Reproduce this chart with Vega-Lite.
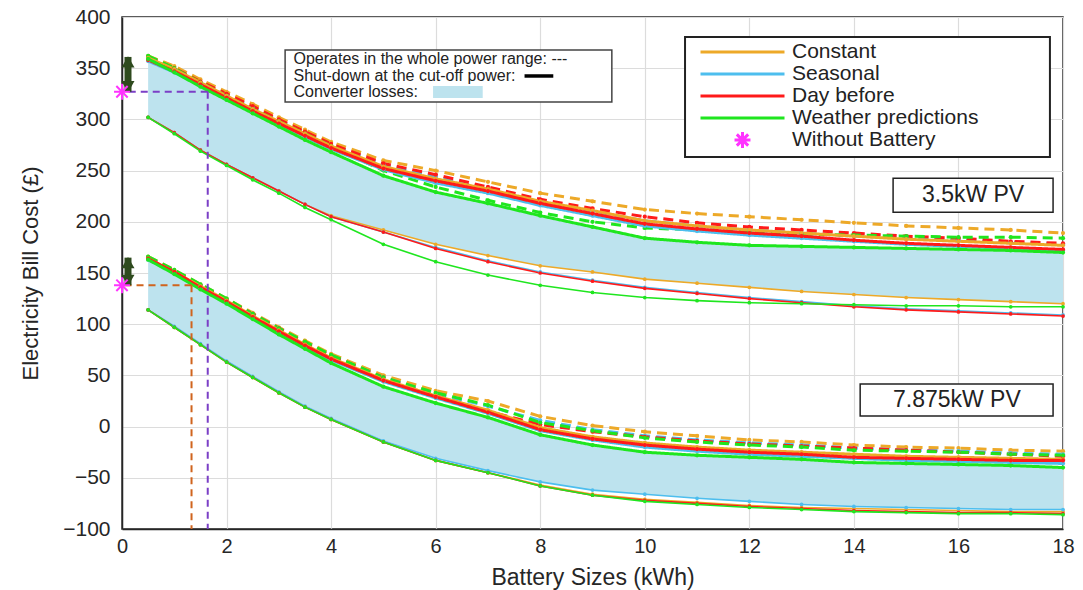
{
  "$schema": "https://vega.github.io/schema/vega-lite/v6.json",
  "width": 941,
  "height": 512,
  "autosize": {"type": "none"},
  "padding": {"left": 122, "top": 17, "right": 20, "bottom": 61},
  "background": "white",
  "data": {"values": [{"note": 1}]},
  "config": {
    "font": "Liberation Sans",
    "view": {"stroke": "#262626", "strokeWidth": 1.5},
    "axis": {
      "gridColor": "#dcdcdc", "gridWidth": 1.2, "domainColor": "#262626", "domainWidth": 1.5,
      "ticks": false, "labelFlush": false, "labelColor": "#262626", "titleColor": "#262626", "titleFontWeight": "normal"
    },
    "axisX": {"labelFontSize": 20, "labelPadding": 7, "titleFontSize": 23, "titleY": 48, "titleBaseline": "middle"},
    "axisY": {"labelFontSize": 21, "labelPadding": 12, "titleFontSize": 22, "titleX": -92, "titleY": 256, "titleBaseline": "middle", "titleAngle": -90}
  },
  "datasets": {
    "curves": [
      {"kwh":0.5,"aCd":362,"aSd":360,"aDd":361,"aWd":362,"aCs":360,"aSs":357,"aDs":358,"aWs":359,"aCl":302,"aSl":302,"aDl":302,"aWl":302,"bCd":166,"bSd":165,"bDd":165,"bWd":166,"bCs":164,"bSs":163,"bDs":164,"bWs":163,"bCl":114,"bSl":114,"bDl":114,"bWl":114},
      {"kwh":1,"aCd":352,"aSd":349,"aDd":350,"aWd":350,"aCs":349,"aSs":346,"aDs":347,"aWs":346,"aCl":287,"aSl":287,"aDl":287,"aWl":286,"bCd":153,"bSd":152,"bDd":152,"bWd":153,"bCs":151,"bSs":150,"bDs":151,"bWs":149,"bCl":97,"bSl":98,"bDl":97,"bWl":97},
      {"kwh":1.5,"aCd":339,"aSd":336,"aDd":337,"aWd":336,"aCs":336,"aSs":333,"aDs":334,"aWs":332,"aCl":270,"aSl":270,"aDl":270,"aWl":269,"bCd":139,"bSd":138,"bDd":138,"bWd":139,"bCs":137,"bSs":135,"bDs":136,"bWs":134,"bCl":80,"bSl":81,"bDl":80,"bWl":80},
      {"kwh":2,"aCd":327,"aSd":324,"aDd":325,"aWd":323,"aCs":323,"aSs":320,"aDs":321,"aWs":319,"aCl":256,"aSl":256,"aDl":256,"aWl":255,"bCd":125,"bSd":124,"bDd":124,"bWd":125,"bCs":123,"bSs":121,"bDs":122,"bWs":120,"bCl":63,"bSl":64,"bDl":63,"bWl":63},
      {"kwh":2.5,"aCd":315,"aSd":312,"aDd":313,"aWd":310,"aCs":310,"aSs":307,"aDs":308,"aWs":306,"aCl":243,"aSl":243,"aDl":243,"aWl":241,"bCd":111,"bSd":110,"bDd":110,"bWd":110,"bCs":108,"bSs":106,"bDs":107,"bWs":105,"bCl":48,"bSl":49,"bDl":48,"bWl":48},
      {"kwh":3,"aCd":302,"aSd":299,"aDd":300,"aWd":298,"aCs":298,"aSs":295,"aDs":296,"aWs":293,"aCl":230,"aSl":230,"aDl":230,"aWl":228,"bCd":97,"bSd":96,"bDd":96,"bWd":96,"bCs":94,"bSs":92,"bDs":93,"bWs":90,"bCl":33,"bSl":34,"bDl":33,"bWl":33},
      {"kwh":3.5,"aCd":290,"aSd":287,"aDd":288,"aWd":286,"aCs":286,"aSs":283,"aDs":284,"aWs":280,"aCl":217,"aSl":217,"aDl":217,"aWl":214,"bCd":84,"bSd":82,"bDd":82,"bWd":83,"bCs":80,"bSs":78,"bDs":79,"bWs":76,"bCl":19,"bSl":20,"bDl":19,"bWl":19},
      {"kwh":4,"aCd":278,"aSd":275,"aDd":276,"aWd":274,"aCs":274,"aSs":271,"aDs":272,"aWs":268,"aCl":206,"aSl":205,"aDl":205,"aWl":202,"bCd":71,"bSd":69,"bDd":69,"bWd":70,"bCs":67,"bSs":65,"bDs":66,"bWs":62,"bCl":7,"bSl":8,"bDl":7,"bWl":7},
      {"kwh":5,"aCd":260,"aSd":256,"aDd":257,"aWd":250,"aCs":254,"aSs":251,"aDs":252,"aWs":245,"aCl":192,"aSl":190,"aDl":190,"aWl":178,"bCd":50,"bSd":48,"bDd":48,"bWd":48,"bCs":46,"bSs":44,"bDs":45,"bWs":39,"bCl":-15,"bSl":-14,"bDl":-15,"bWl":-15},
      {"kwh":6,"aCd":250,"aSd":244,"aDd":246,"aWd":234,"aCs":242,"aSs":238,"aDs":240,"aWs":229,"aCl":178,"aSl":175,"aDl":174,"aWl":161,"bCd":35,"bSd":32,"bDd":30,"bWd":33,"bCs":30,"bSs":28,"bDs":29,"bWs":23,"bCl":-33,"bSl":-31,"bDl":-33,"bWl":-33},
      {"kwh":7,"aCd":239,"aSd":232,"aDd":234,"aWd":221,"aCs":232,"aSs":228,"aDs":230,"aWs":218,"aCl":167,"aSl":162,"aDl":161,"aWl":148,"bCd":25,"bSd":20,"bDd":15,"bWd":21,"bCs":16,"bSs":13,"bDs":14,"bWs":9,"bCl":-45,"bSl":-43,"bDl":-45,"bWl":-45},
      {"kwh":8,"aCd":228,"aSd":220,"aDd":222,"aWd":209,"aCs":220,"aSs":216,"aDs":218,"aWs":206,"aCl":157,"aSl":151,"aDl":150,"aWl":138,"bCd":10,"bSd":6,"bDd":2,"bWd":4,"bCs":-1,"bSs":-4,"bDs":-3,"bWs":-8,"bCl":-57,"bSl":-54,"bDl":-58,"bWl":-58},
      {"kwh":9,"aCd":220,"aSd":210,"aDd":213,"aWd":200,"aCs":211,"aSs":206,"aDs":208,"aWs":195,"aCl":151,"aSl":143,"aDl":142,"aWl":131,"bCd":1,"bSd":-3,"bDd":-5,"bWd":-4,"bCs":-10,"bSs":-13,"bDs":-12,"bWs":-18,"bCl":-66,"bSl":-62,"bDl":-67,"bWl":-67},
      {"kwh":10,"aCd":212,"aSd":201,"aDd":205,"aWd":194,"aCs":201,"aSs":196,"aDs":198,"aWs":184,"aCl":144,"aSl":136,"aDl":135,"aWl":126,"bCd":-5,"bSd":-9,"bDd":-10,"bWd":-11,"bCs":-16,"bSs":-20,"bDs":-18,"bWs":-25,"bCl":-71,"bSl":-66,"bDl":-72,"bWl":-73},
      {"kwh":11,"aCd":208,"aSd":196,"aDd":199,"aWd":192,"aCs":196,"aSs":191,"aDs":193,"aWs":180,"aCl":140,"aSl":131,"aDl":130,"aWl":123,"bCd":-9,"bSd":-13,"bDd":-14,"bWd":-15,"bCs":-20,"bSs":-24,"bDs":-22,"bWs":-28,"bCl":-74,"bSl":-70,"bDl":-75,"bWl":-76},
      {"kwh":12,"aCd":205,"aSd":192,"aDd":195,"aWd":190,"aCs":192,"aSs":187,"aDs":189,"aWs":177,"aCl":136,"aSl":126,"aDl":125,"aWl":121,"bCd":-13,"bSd":-16,"bDd":-17,"bWd":-18,"bCs":-23,"bSs":-27,"bDs":-25,"bWs":-30,"bCl":-77,"bSl":-73,"bDl":-78,"bWl":-79},
      {"kwh":13,"aCd":202,"aSd":189,"aDd":192,"aWd":188,"aCs":189,"aSs":184,"aDs":186,"aWs":176,"aCl":132,"aSl":122,"aDl":121,"aWl":120,"bCd":-15,"bSd":-18,"bDd":-19,"bWd":-20,"bCs":-25,"bSs":-29,"bDs":-27,"bWs":-32,"bCl":-79,"bSl":-76,"bDl":-80,"bWl":-81},
      {"kwh":14,"aCd":199,"aSd":186,"aDd":189,"aWd":187,"aCs":186,"aSs":181,"aDs":182,"aWs":175,"aCl":129,"aSl":118,"aDl":117,"aWl":119,"bCd":-18,"bSd":-21,"bDd":-21,"bWd":-23,"bCs":-27,"bSs":-31,"bDs":-30,"bWs":-35,"bCl":-80,"bSl":-78,"bDl":-82,"bWl":-83},
      {"kwh":15,"aCd":196,"aSd":184,"aDd":186,"aWd":186,"aCs":183,"aSs":178,"aDs":179,"aWs":174,"aCl":126,"aSl":115,"aDl":114,"aWl":118,"bCd":-20,"bSd":-23,"bDd":-23,"bWd":-24,"bCs":-29,"bSs":-33,"bDs":-31,"bWs":-36,"bCl":-81,"bSl":-79,"bDl":-83,"bWl":-84},
      {"kwh":16,"aCd":194,"aSd":182,"aDd":184,"aWd":185,"aCs":181,"aSs":176,"aDs":177,"aWs":173,"aCl":124,"aSl":113,"aDl":112,"aWl":118,"bCd":-21,"bSd":-24,"bDd":-25,"bWd":-25,"bCs":-30,"bSs":-34,"bDs":-32,"bWs":-37,"bCl":-82,"bSl":-80,"bDl":-84,"bWl":-85},
      {"kwh":17,"aCd":192,"aSd":180,"aDd":181,"aWd":185,"aCs":179,"aSs":174,"aDs":175,"aWs":172,"aCl":122,"aSl":111,"aDl":110,"aWl":117,"bCd":-23,"bSd":-26,"bDd":-27,"bWd":-27,"bCs":-31,"bSs":-35,"bDs":-33,"bWs":-38,"bCl":-83,"bSl":-81,"bDl":-84,"bWl":-85},
      {"kwh":18,"aCd":189,"aSd":178,"aDd":179,"aWd":184,"aCs":177,"aSs":172,"aDs":173,"aWs":170,"aCl":120,"aSl":109,"aDl":108,"aWl":117,"bCd":-24,"bSd":-27,"bDd":-29,"bWd":-28,"bCs":-32,"bSs":-36,"bDs":-33,"bWs":-40,"bCl":-83,"bSl":-81,"bDl":-85,"bWl":-86}
    ],
    "series": [
      {"key":"aCd","strategy":"Constant","mode":"d"},{"key":"aSd","strategy":"Seasonal","mode":"d"},{"key":"aDd","strategy":"Day before","mode":"d"},{"key":"aWd","strategy":"Weather predictions","mode":"d"},
      {"key":"aCs","strategy":"Constant","mode":"s"},{"key":"aSs","strategy":"Seasonal","mode":"s"},{"key":"aDs","strategy":"Day before","mode":"s"},{"key":"aWs","strategy":"Weather predictions","mode":"s"},
      {"key":"aCl","strategy":"Constant","mode":"l"},{"key":"aSl","strategy":"Seasonal","mode":"l"},{"key":"aDl","strategy":"Day before","mode":"l"},{"key":"aWl","strategy":"Weather predictions","mode":"l"},
      {"key":"bCd","strategy":"Constant","mode":"d"},{"key":"bSd","strategy":"Seasonal","mode":"d"},{"key":"bDd","strategy":"Day before","mode":"d"},{"key":"bWd","strategy":"Weather predictions","mode":"d"},
      {"key":"bCs","strategy":"Constant","mode":"s"},{"key":"bSs","strategy":"Seasonal","mode":"s"},{"key":"bDs","strategy":"Day before","mode":"s"},{"key":"bWs","strategy":"Weather predictions","mode":"s"},
      {"key":"bCl","strategy":"Constant","mode":"l"},{"key":"bSl","strategy":"Seasonal","mode":"l"},{"key":"bDl","strategy":"Day before","mode":"l"},{"key":"bWl","strategy":"Weather predictions","mode":"l"}
    ],
    "nobattery": [
      {"kwh":0,"cost":327,"strategy":"Without Battery"},
      {"kwh":0,"cost":138,"strategy":"Without Battery"}
    ],
    "gap": [
      {"kwh":0,"low":327,"high":361},
      {"kwh":0,"low":138,"high":165}
    ],
    "cutoff": [
      {"pv":"3.5kW","kwh":1.64,"cost":327},
      {"pv":"7.875kW","kwh":1.33,"cost":138}
    ]
  },
  "layer": [
    {
      "data": {"name": "curves"},
      "mark": {"type": "area", "color": "#bde3ee", "opacity": 1},
      "encoding": {
        "x": {"field": "kwh", "type": "quantitative", "scale": {"domain": [0, 18], "nice": false, "zero": false},
              "axis": {"title": "Battery Sizes (kWh)", "values": [0,2,4,6,8,10,12,14,16,18], "grid": true}},
        "y": {"field": "aWs", "type": "quantitative", "scale": {"domain": [-100, 400], "nice": false, "zero": false},
              "axis": {"title": "Electricity Bill Cost (£)", "values": [-100,-50,0,50,100,150,200,250,300,350,400], "grid": true}},
        "y2": {"field": "aCl"}
      }
    },
    {
      "data": {"name": "curves"},
      "mark": {"type": "area", "color": "#bde3ee", "opacity": 1},
      "encoding": {
        "x": {"field": "kwh", "type": "quantitative"},
        "y": {"field": "bWs", "type": "quantitative"},
        "y2": {"field": "bSl"}
      }
    },
    {
      "data": {"name": "curves"},
      "transform": [
        {"fold": ["aCd","aSd","aDd","aWd","aCs","aSs","aDs","aWs","aCl","aSl","aDl","aWl","bCd","bSd","bDd","bWd","bCs","bSs","bDs","bWs","bCl","bSl","bDl","bWl"], "as": ["key", "cost"]},
        {"lookup": "key", "from": {"data": {"name": "series"}, "key": "key", "fields": ["strategy", "mode"]}},
        {"filter": {"field": "mode", "equal": "l"}}
      ],
      "mark": {"type": "line", "strokeWidth": 1.6, "point": {"filled": true, "size": 14}},
      "encoding": {
        "x": {"field": "kwh", "type": "quantitative"},
        "y": {"field": "cost", "type": "quantitative"},
        "detail": {"field": "key"},
        "color": {"field": "strategy", "type": "nominal",
          "scale": {"domain": ["Constant","Seasonal","Day before","Weather predictions","Without Battery"], "range": ["#EDA928","#4DBEEE","#FF1A1A","#1FE61F","#FF33FF"]},
          "legend": {"orient": "none", "legendX": 577, "legendY": 25, "title": null, "labelFontSize": 21, "labelLimit": 400, "labelColor": "#222222", "clipHeight": 20, "rowPadding": 1, "symbolSize": 7056, "symbolStrokeWidth": 3, "labelOffset": 6, "padding": 0}}
      }
    },
    {
      "data": {"name": "curves"},
      "transform": [
        {"fold": ["aCd","aSd","aDd","aWd","aCs","aSs","aDs","aWs","aCl","aSl","aDl","aWl","bCd","bSd","bDd","bWd","bCs","bSs","bDs","bWs","bCl","bSl","bDl","bWl"], "as": ["key", "cost"]},
        {"lookup": "key", "from": {"data": {"name": "series"}, "key": "key", "fields": ["strategy", "mode"]}},
        {"filter": {"field": "mode", "oneOf": ["d", "s"]}}
      ],
      "mark": {"type": "line", "strokeWidth": 3, "point": {"filled": true, "size": 18}},
      "encoding": {
        "x": {"field": "kwh", "type": "quantitative"},
        "y": {"field": "cost", "type": "quantitative"},
        "detail": {"field": "key"},
        "color": {"field": "strategy", "type": "nominal"},
        "strokeDash": {"field": "mode", "type": "nominal", "scale": {"domain": ["d", "s"], "range": [[10, 6], [1, 0]]}, "legend": null}
      }
    },
    {
      "data": {"name": "cutoff"},
      "mark": {"type": "rule", "strokeWidth": 2, "strokeDash": [7, 5]},
      "encoding": {
        "x": {"field": "kwh", "type": "quantitative"},
        "x2": {"datum": 0},
        "y": {"field": "cost", "type": "quantitative"},
        "stroke": {"field": "pv", "type": "nominal", "scale": {"domain": ["3.5kW", "7.875kW"], "range": ["#7B3FC6", "#D0641E"]}, "legend": null}
      }
    },
    {
      "data": {"name": "cutoff"},
      "mark": {"type": "rule", "strokeWidth": 2, "strokeDash": [7, 5]},
      "encoding": {
        "x": {"field": "kwh", "type": "quantitative"},
        "y": {"field": "cost", "type": "quantitative"},
        "y2": {"datum": -100},
        "stroke": {"field": "pv", "type": "nominal"}
      }
    },
    {
      "data": {"name": "gap"},
      "mark": {"type": "rule", "strokeWidth": 7, "color": "#2E4A1E", "xOffset": 6},
      "encoding": {
        "x": {"field": "kwh", "type": "quantitative"},
        "y": {"field": "low", "type": "quantitative"},
        "y2": {"field": "high"}
      }
    },
    {
      "data": {"name": "gap"},
      "mark": {"type": "point", "shape": "triangle-up", "filled": true, "size": 170, "color": "#2E4A1E", "xOffset": 6, "yOffset": 5, "opacity": 1},
      "encoding": {
        "x": {"field": "kwh", "type": "quantitative"},
        "y": {"field": "high", "type": "quantitative"}
      }
    },
    {
      "data": {"name": "gap"},
      "mark": {"type": "point", "shape": "triangle-down", "filled": true, "size": 170, "color": "#2E4A1E", "xOffset": 6, "yOffset": -5, "opacity": 1},
      "encoding": {
        "x": {"field": "kwh", "type": "quantitative"},
        "y": {"field": "low", "type": "quantitative"}
      }
    },
    {
      "data": {"name": "nobattery"},
      "mark": {"type": "point", "filled": false, "size": 7056, "strokeWidth": 2, "opacity": 1},
      "encoding": {
        "x": {"field": "kwh", "type": "quantitative"},
        "y": {"field": "cost", "type": "quantitative"},
        "color": {"field": "strategy", "type": "nominal"},
        "shape": {"field": "strategy", "type": "nominal",
          "scale": {"domain": ["Constant","Seasonal","Day before","Weather predictions","Without Battery"], "range": ["stroke","stroke","stroke","stroke","M0,-0.19L0,0.19M-0.19,0L0.19,0M-0.135,-0.135L0.135,0.135M-0.135,0.135L0.135,-0.135"]},
          "legend": {"orient": "none", "legendX": 577, "legendY": 25, "title": null, "labelFontSize": 21, "labelLimit": 400, "labelColor": "#222222", "clipHeight": 20, "rowPadding": 1, "symbolSize": 7056, "symbolStrokeWidth": 3, "labelOffset": 6, "padding": 0}}
      }
    },
    {
      "mark": {"type": "rect", "fill": "white", "stroke": "#222222", "strokeWidth": 2},
      "encoding": {"x": {"datum": 10.77}, "x2": {"datum": 17.75}, "y": {"datum": 380.5}, "y2": {"datum": 263.3}}
    },
    {
      "mark": {"type": "rect", "fill": "white", "stroke": "#444444", "strokeWidth": 1.5},
      "encoding": {"x": {"datum": 3.12}, "x2": {"datum": 9.37}, "y": {"datum": 367.8}, "y2": {"datum": 317}}
    },
    {
      "mark": {"type": "text", "text": "Operates in the whole power range: ---", "align": "left", "baseline": "middle", "fontSize": 16, "color": "#222222"},
      "encoding": {"x": {"datum": 3.28}, "y": {"datum": 359}}
    },
    {
      "mark": {"type": "text", "text": "Shut-down at the cut-off power:", "align": "left", "baseline": "middle", "fontSize": 16, "color": "#222222"},
      "encoding": {"x": {"datum": 3.28}, "y": {"datum": 342.4}}
    },
    {
      "mark": {"type": "rule", "strokeWidth": 3.5, "color": "black"},
      "encoding": {"x": {"datum": 7.7}, "x2": {"datum": 8.25}, "y": {"datum": 342.4}}
    },
    {
      "mark": {"type": "text", "text": "Converter losses:", "align": "left", "baseline": "middle", "fontSize": 16, "color": "#222222"},
      "encoding": {"x": {"datum": 3.28}, "y": {"datum": 326.7}}
    },
    {
      "mark": {"type": "rect", "fill": "#bde3ee"},
      "encoding": {"x": {"datum": 5.95}, "x2": {"datum": 6.9}, "y": {"datum": 332.5}, "y2": {"datum": 321}}
    },
    {
      "mark": {"type": "rect", "fill": "white", "stroke": "#222222", "strokeWidth": 1.5},
      "encoding": {"x": {"datum": 14.75}, "x2": {"datum": 17.81}, "y": {"datum": 242.6}, "y2": {"datum": 209.4}}
    },
    {
      "mark": {"type": "text", "text": "3.5kW PV", "align": "center", "baseline": "middle", "fontSize": 23, "color": "#222222"},
      "encoding": {"x": {"datum": 16.28}, "y": {"datum": 226}}
    },
    {
      "mark": {"type": "rect", "fill": "white", "stroke": "#222222", "strokeWidth": 1.5},
      "encoding": {"x": {"datum": 14.12}, "x2": {"datum": 17.81}, "y": {"datum": 41.6}, "y2": {"datum": 10.4}}
    },
    {
      "mark": {"type": "text", "text": "7.875kW PV", "align": "center", "baseline": "middle", "fontSize": 23, "color": "#222222"},
      "encoding": {"x": {"datum": 15.97}, "y": {"datum": 26}}
    }
  ]
}
